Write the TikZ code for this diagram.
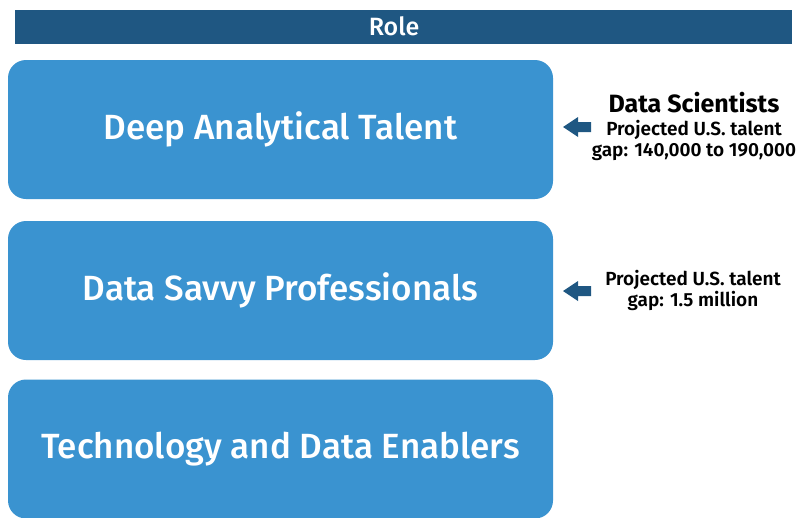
\documentclass[tikz,border=0pt]{standalone}
\usepackage{fontspec}
\setmainfont{Fira Sans}
\newfontfamily\fsmed{Fira Sans Medium}
\newfontfamily\fssemi{Fira Sans SemiBold}
\definecolor{darkblue}{HTML}{1F5782}
\definecolor{boxblue}{HTML}{3A93D0}
\begin{document}
\begin{tikzpicture}[x=1pt,y=-1pt,
  rolebox/.style={fill=boxblue,draw=none,rounded corners=18pt,minimum width=545pt,minimum height=139pt,inner sep=0pt,text=white,font=\fontsize{35}{40}\fsmed},
  blockarrow/.style={fill=darkblue,draw=none},
  note/.style={align=center,inner sep=0pt,font=\fontsize{19}{21}\fssemi}]
\useasboundingbox (0,0) rectangle (806,517);
\node[fill=darkblue,minimum width=777pt,minimum height=34pt,inner sep=0pt] (role) at (403.5,26.5) {};
\node[text=white,inner sep=0pt,font=\fontsize{25}{26}\fsmed] (roletext) at (394,26.5) {Role};
\node[rolebox] (deep) at (280.5,129.5) {Deep Analytical Talent};
\node[rolebox] (savvy) at (280.5,290.5) {Data Savvy Professionals};
\node[rolebox] (tech) at (280.5,449) {Technology and Data Enablers};
\foreach \n/\y in {a1/127,a2/291}{
  \coordinate (\n) at (563,\y);
  \fill[blockarrow] (\n) -- ++(15,-10) -- ++(0,5) -- ++(13,0) -- ++(0,10) -- ++(-13,0) -- ++(0,5) -- cycle;
}
\node[inner sep=0pt,font=\fontsize{25}{28}\selectfont\bfseries] (ds) at (694,103) {Data Scientists};
\node[note,anchor=north] (g1) at (694,120) {Projected U.S. talent\\gap: 140,000 to 190,000};
\node[note,anchor=north] (g2) at (693,270) {Projected U.S. talent\\gap: 1.5 million};
\end{tikzpicture}
\end{document}
